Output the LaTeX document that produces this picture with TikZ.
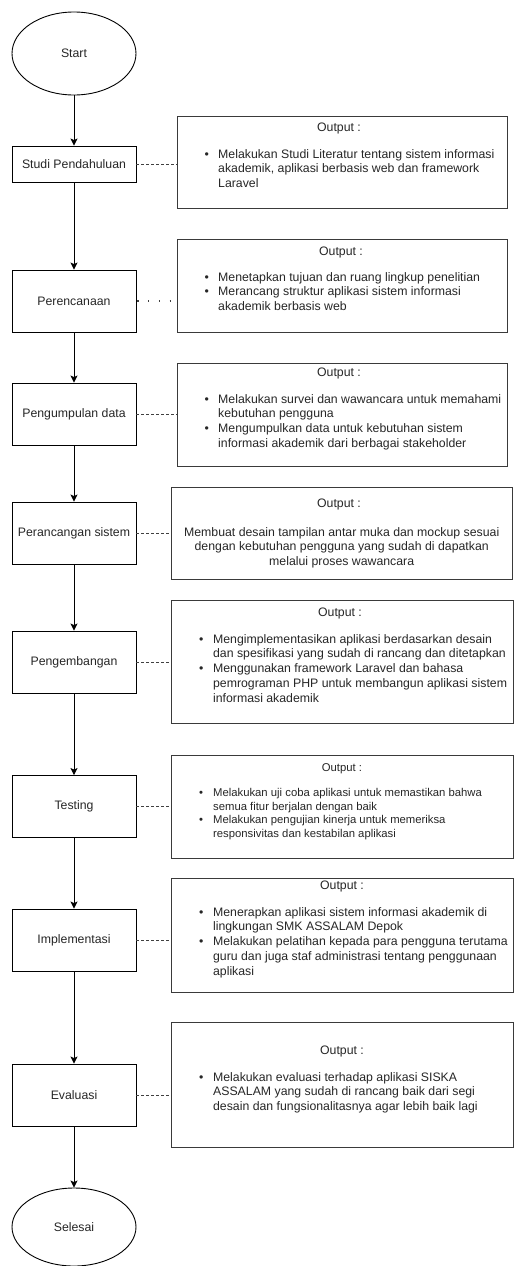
\documentclass[tikz,border=0pt]{standalone}
\usepackage{fontspec}
\setmainfont{Liberation Sans}
\usetikzlibrary{shapes.geometric,arrows.meta}
\definecolor{txt}{HTML}{262626}
\definecolor{boxgray}{HTML}{3A3A3A}
\definecolor{linkgray}{HTML}{404040}
\newcommand{\blt}{\textbullet}
\tikzset{
  fnt/.style={font=\fontsize{12.3}{14.8}\selectfont},
  fntsmall/.style={font=\fontsize{11.3}{13.6}\selectfont},
  stepbox/.style={draw=black, line width=0.9pt, minimum width=124pt, minimum height=62pt, inner sep=0pt, fnt, text=txt},
  term/.style={ellipse, draw=black, line width=0.9pt, minimum width=124pt, minimum height=83pt, inner sep=0pt, fnt, text=txt},
  outbox/.style={draw=boxgray, line width=0.9pt, inner sep=0pt},
  flow/.style={line width=0.9pt, -{Stealth[length=7pt,width=7pt,inset=1.5pt]}},
  link/.style={draw=linkgray, line width=0.8pt, dash pattern=on 3pt off 2pt},
  dotlink/.style={draw=linkgray, line width=1.2pt, dash pattern=on 1.2pt off 9.5pt},
  outtitle/.style={anchor=base, inner sep=0pt, fnt, text=txt},
  outtext/.style={anchor=base west, inner sep=0pt, fnt, text=txt, align=left},
}
\begin{document}
\begin{tikzpicture}[x=1pt,y=1pt]
\useasboundingbox (0,0) rectangle (514,-1266);

% flow nodes
\node[term, minimum height=83pt] (start) at (74,-53.5) {Start};
\node[stepbox, minimum height=36pt] (s1) at (74,-164) {Studi Pendahuluan};
\node[stepbox] (s2) at (74,-301) {Perencanaan};
\node[stepbox] (s3) at (74,-414) {Pengumpulan data};
\node[stepbox] (s4) at (74,-533) {Perancangan sistem};
\node[stepbox] (s5) at (74,-662) {Pengembangan};
\node[stepbox] (s6) at (74,-806.5) {Testing};
\node[stepbox] (s7) at (74,-940) {Implementasi};
\node[stepbox] (s8) at (74,-1095) {Evaluasi};
\node[term, minimum height=78pt] (end) at (74,-1227) {Selesai};

% output boxes
\node[outbox, minimum width=330pt, minimum height=92pt] (o1) at (342,-162) {};
\node[outbox, minimum width=330pt, minimum height=93pt] (o2) at (342,-285.5) {};
\node[outbox, minimum width=330pt, minimum height=103pt] (o3) at (342,-414.5) {};
\node[outbox, minimum width=341pt, minimum height=92pt] (o4) at (341.5,-533) {};
\node[outbox, minimum width=342pt, minimum height=123pt] (o5) at (342,-661.5) {};
\node[outbox, minimum width=342pt, minimum height=103pt] (o6) at (342,-806.5) {};
\node[outbox, minimum width=342pt, minimum height=114pt] (o7) at (342,-935) {};
\node[outbox, minimum width=342pt, minimum height=125pt] (o8) at (342,-1084.5) {};

% flow arrows
\draw[flow] (start) -- (s1);
\draw[flow] (s1) -- (s2);
\draw[flow] (s2) -- (s3);
\draw[flow] (s3) -- (s4);
\draw[flow] (s4) -- (s5);
\draw[flow] (s5) -- (s6);
\draw[flow] (s6) -- (s7);
\draw[flow] (s7) -- (s8);
\draw[flow] (s8) -- (end);

% links
\draw[link] (s1.east) -- (s1.east -| o1.west);
\draw[dotlink] ([xshift=1pt]s2.east) -- (s2.east -| o2.west);
\draw[link] (s3.east) -- (s3.east -| o3.west);
\draw[link] (s4.east) -- (s4.east -| o4.west);
\draw[link] (s5.east) -- (s5.east -| o5.west);
\draw[link] (s6.east) -- (s6.east -| o6.west);
\draw[link] (s7.east) -- (s7.east -| o7.west);
\draw[link] (s8.east) -- (s8.east -| o8.west);

% output texts
\node[outtitle] (t1) at (339,-131) {Output :};
\node[outtext] (b1) at (204.5,-158) {\begin{tabular}[t]{@{}l@{\hspace{9.2pt}}l@{}}
\blt & Melakukan Studi Literatur tentang sistem informasi\\
 & akademik, aplikasi berbasis web dan framework\\
 & Laravel
\end{tabular}};

\node[outtitle] (t2) at (341,-255) {Output :};
\node[outtext] (b2) at (204.5,-281) {\begin{tabular}[t]{@{}l@{\hspace{9.2pt}}l@{}}
\blt & Menetapkan tujuan dan ruang lingkup penelitian\\
\blt & Merancang struktur aplikasi sistem informasi\\
 & akademik berbasis web
\end{tabular}};

\node[outtitle] (t3) at (339,-376) {Output :};
\node[outtext] (b3) at (204.5,-403) {\begin{tabular}[t]{@{}l@{\hspace{9.2pt}}l@{}}
\blt & Melakukan survei dan wawancara untuk memahami\\
 & kebutuhan pengguna\\
\blt & Mengumpulkan data untuk kebutuhan sistem\\
 & informasi akademik dari berbagai stakeholder
\end{tabular}};

\node[outtitle] (t4) at (339,-507) {Output :};
\node[outtitle] (b4) at (341.7,-536) {\begin{tabular}[t]{@{}c@{}}
Membuat desain tampilan antar muka dan mockup sesuai\\
dengan kebutuhan pengguna yang sudah di dapatkan\\
melalui proses wawancara
\end{tabular}};

\node[outtitle] (t5) at (340,-616) {Output :};
\node[outtext] (b5) at (198.8,-643) {\begin{tabular}[t]{@{}l@{\hspace{9.8pt}}l@{}}
\blt & Mengimplementasikan aplikasi berdasarkan desain\\
 & dan spesifikasi yang sudah di rancang dan ditetapkan\\
\blt & Menggunakan framework Laravel dan bahasa\\
 & pemrograman PHP untuk membangun aplikasi sistem\\
 & informasi akademik
\end{tabular}};

\node[outtitle, fntsmall] (t6) at (342,-771.5) {Output :};
\node[outtext, fntsmall] (b6) at (199,-796.5) {\begin{tabular}[t]{@{}l@{\hspace{10pt}}l@{}}
\blt & Melakukan uji coba aplikasi untuk memastikan bahwa\\
 & semua fitur berjalan dengan baik\\
\blt & Melakukan pengujian kinerja untuk memeriksa\\
 & responsivitas dan kestabilan aplikasi
\end{tabular}};

\node[outtitle] (t7) at (342,-889) {Output :};
\node[outtext] (b7) at (198.8,-916) {\begin{tabular}[t]{@{}l@{\hspace{9.8pt}}l@{}}
\blt & Menerapkan aplikasi sistem informasi akademik di\\
 & lingkungan SMK ASSALAM Depok\\
\blt & Melakukan pelatihan kepada para pengguna terutama\\
 & guru dan juga staf administrasi tentang penggunaan\\
 & aplikasi
\end{tabular}};

\node[outtitle] (t8) at (342,-1054) {Output :};
\node[outtext] (b8) at (198.8,-1081) {\begin{tabular}[t]{@{}l@{\hspace{9.8pt}}l@{}}
\blt & Melakukan evaluasi terhadap aplikasi SISKA\\
 & ASSALAM yang sudah di rancang baik dari segi\\
 & desain dan fungsionalitasnya agar lebih baik lagi
\end{tabular}};
\end{tikzpicture}
\end{document}
